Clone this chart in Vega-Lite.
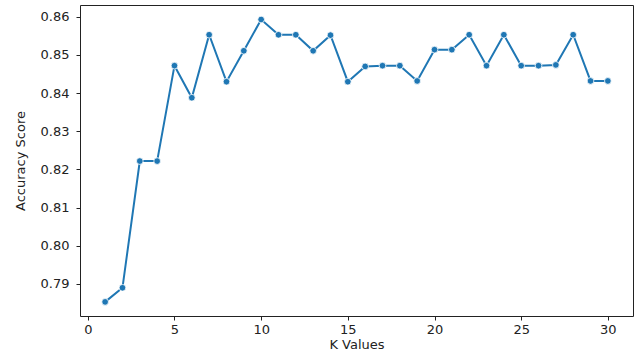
{
  "$schema": "https://vega.github.io/schema/vega-lite/v6.json",
  "width": 553,
  "height": 311,
  "autosize": {"type": "none"},
  "padding": {"left": 80, "top": 5, "right": 1, "bottom": 39},
  "background": "white",
  "config": {
    "view": {"stroke": "#222222", "strokeWidth": 1},
    "font": "DejaVu Sans",
    "axis": {
      "grid": false,
      "domain": false,
      "tickColor": "#222222",
      "tickSize": 4,
      "labelFont": "DejaVu Sans",
      "labelFontSize": 13,
      "labelColor": "#222222",
      "titleFont": "DejaVu Sans",
      "titleFontSize": 13,
      "titleFontWeight": "normal",
      "titleColor": "#222222"
    }
  },
  "data": {
    "values": [
      {"k": 1, "acc": 0.7853},
      {"k": 2, "acc": 0.7890},
      {"k": 3, "acc": 0.8222},
      {"k": 4, "acc": 0.8222},
      {"k": 5, "acc": 0.8472},
      {"k": 6, "acc": 0.8388},
      {"k": 7, "acc": 0.8553},
      {"k": 8, "acc": 0.8430},
      {"k": 9, "acc": 0.8511},
      {"k": 10, "acc": 0.8593},
      {"k": 11, "acc": 0.8553},
      {"k": 12, "acc": 0.8553},
      {"k": 13, "acc": 0.8511},
      {"k": 14, "acc": 0.8552},
      {"k": 15, "acc": 0.8430},
      {"k": 16, "acc": 0.8470},
      {"k": 17, "acc": 0.8472},
      {"k": 18, "acc": 0.8472},
      {"k": 19, "acc": 0.8432},
      {"k": 20, "acc": 0.8514},
      {"k": 21, "acc": 0.8514},
      {"k": 22, "acc": 0.8553},
      {"k": 23, "acc": 0.8472},
      {"k": 24, "acc": 0.8553},
      {"k": 25, "acc": 0.8472},
      {"k": 26, "acc": 0.8472},
      {"k": 27, "acc": 0.8474},
      {"k": 28, "acc": 0.8553},
      {"k": 29, "acc": 0.8432},
      {"k": 30, "acc": 0.8432}
    ]
  },
  "encoding": {
    "x": {
      "field": "k",
      "type": "quantitative",
      "title": "K Values",
      "scale": {"domain": [-0.45, 31.45], "nice": false, "zero": false},
      "axis": {"values": [0, 5, 10, 15, 20, 25, 30], "format": "d", "labelPadding": 3, "titlePadding": 2}
    },
    "y": {
      "field": "acc",
      "type": "quantitative",
      "title": "Accuracy Score",
      "scale": {"domain": [0.7816, 0.8631], "nice": false, "zero": false},
      "axis": {"values": [0.79, 0.80, 0.81, 0.82, 0.83, 0.84, 0.85, 0.86], "format": ".2f", "labelPadding": 7, "titlePadding": 13}
    }
  },
  "layer": [
    {
      "mark": {"type": "line", "color": "#1f77b4", "strokeWidth": 2, "clip": true}
    },
    {
      "mark": {"type": "point", "shape": "circle", "filled": true, "fill": "#1f77b4", "stroke": "white", "strokeWidth": 0.8, "size": 45, "opacity": 1}
    }
  ]
}
